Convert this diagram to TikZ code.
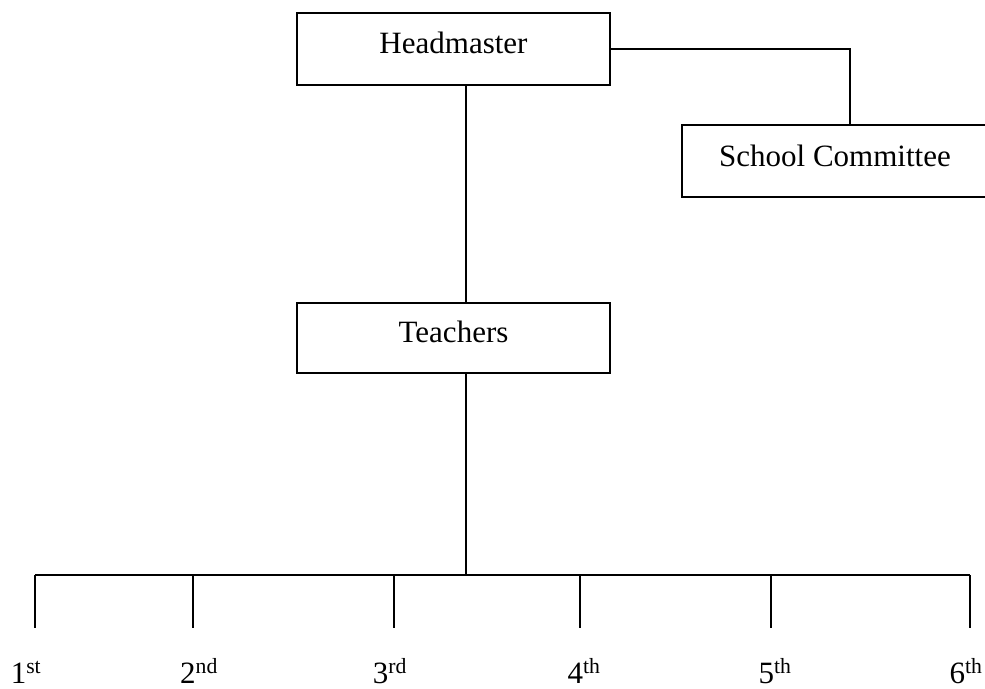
\documentclass[tikz,border=0pt]{standalone}
\usepackage{fontspec}
\setmainfont{Liberation Serif}
\begin{document}
\begin{tikzpicture}[x=1pt,y=-1pt,line width=1.5pt,
  box/.style={draw,minimum height=72pt,inner sep=0pt,text height=21pt,text depth=13pt,font=\fontsize{31}{36}\selectfont},
  lbl/.style={anchor=base,inner sep=0pt,font=\fontsize{31}{36}\selectfont}]
\useasboundingbox (0,0) rectangle (985,688);
\node[box,minimum width=313pt] (hm) at (453.5,49) {Headmaster};
\node[box,minimum width=313pt,minimum height=70pt] (tc) at (453.5,338) {Teachers};
\node[box,minimum width=306pt,text depth=10pt] (sc) at (835,161) {School Committee};
\coordinate (k) at (850,0);
\coordinate (bar) at (466,575);
\coordinate (bl) at (35,575);
\coordinate (br) at (970,575);
\draw (hm.east) -| (k |- sc.north);
\draw (bar |- hm.south) -- (bar |- tc.north);
\draw (bar |- tc.south) -- (bar);
\draw (bl) -- (br);
\foreach \n/\x/\lx/\s in {1/35/26/st,2/193/199/nd,3/394/390/rd,4/580/584/th,5/771/775/th,6/970/966/th}{
  \coordinate (t\n) at (\x,575);
  \coordinate (e\n) at (\x,628);
  \draw (t\n) -- (e\n);
  \node[lbl] (c\n) at (\lx,683) {\n\textsuperscript{\s}};
}
\end{tikzpicture}
\end{document}
